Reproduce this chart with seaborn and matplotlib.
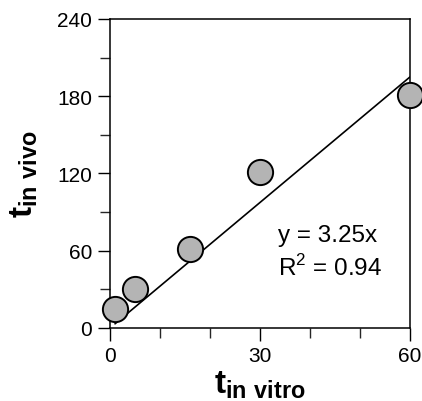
import numpy as np
import pandas as pd
import seaborn as sns
import matplotlib.pyplot as plt
from matplotlib.ticker import MultipleLocator

# values
t_in_vitro = [1, 5, 16, 30, 60]
t_in_vivo = [15, 30, 61, 121, 181]
fit_x = [1, 60]
fit_slope = 3.25
r_squared = 0.94

sns.set_style('ticks')
plt.rcParams['font.family'] = ['Liberation Sans', 'DejaVu Sans']
plt.rcParams['mathtext.fontset'] = 'custom'
plt.rcParams['mathtext.rm'] = 'Liberation Sans'
plt.rcParams['mathtext.bf'] = 'Liberation Sans:bold'
plt.rcParams['text.color'] = 'black'
plt.rcParams['axes.labelcolor'] = 'black'

df = pd.DataFrame({'vitro': t_in_vitro, 'vivo': t_in_vivo})
fit_df = pd.DataFrame({'x': fit_x, 'y': [fit_slope * v for v in fit_x]})

fig = plt.figure(figsize=(4.22, 4.02), dpi=100)
ax = fig.add_axes([0.2607, 0.1816, 0.7109, 0.7687])

sns.lineplot(data=fit_df, x='x', y='y', ax=ax, color='black', linewidth=1.2)
sns.scatterplot(data=df, x='vitro', y='vivo', ax=ax, s=330, color='#b4b4b4',
                edgecolor='black', linewidth=1.4, zorder=3, clip_on=False)

ax.set_xlim(0, 60)
ax.set_ylim(0, 240)
ax.xaxis.set_major_locator(MultipleLocator(30))
ax.xaxis.set_minor_locator(MultipleLocator(10))
ax.yaxis.set_major_locator(MultipleLocator(60))
ax.yaxis.set_minor_locator(MultipleLocator(30))
ax.tick_params(which='major', direction='out', length=9, width=1, labelsize=15, colors='black', pad=4)
ax.tick_params(which='minor', direction='out', length=7, width=1)
for sp in ax.spines.values():
    sp.set_linewidth(1.1)
    sp.set_color('black')

ax.set_xlabel(r'$\mathbf{t}_{\mathbf{in\ vitro}}$', fontsize=24, labelpad=2)
ax.set_ylabel(r'$\mathbf{t}_{\mathbf{in\ vivo}}$', fontsize=24, labelpad=12)

ax.text(0.56, 0.2816, f'y = {fit_slope}x', transform=ax.transAxes, fontsize=17.5, va='baseline')
ax.text(0.56, 0.1715, f'R$^2$ = {r_squared}', transform=ax.transAxes, fontsize=17.5, va='baseline')

plt.savefig('out.png', dpi=100)
